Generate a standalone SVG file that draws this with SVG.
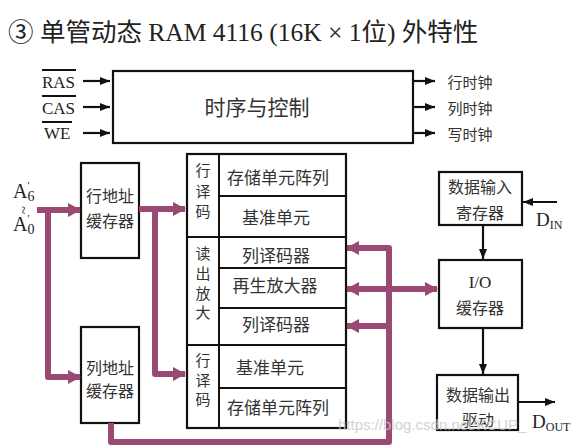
<svg xmlns="http://www.w3.org/2000/svg" width="579" height="446" viewBox="0 0 579 446">
<style>
.bx{fill:#fff;stroke:#111;stroke-width:2.2}
.ln{fill:none;stroke:#111;stroke-width:2}
.t{font-family:"Liberation Serif","Noto Sans CJK SC",serif;fill:#222}
.c{font-family:"Noto Sans CJK SC","Noto Sans CJK JP",sans-serif;fill:#333;font-size:16px;text-anchor:middle}
.v{font-size:15px}
.pb{fill:none;stroke:#9a4a72;stroke-width:6;stroke-linejoin:round}
.ar{fill:none;stroke:#111;stroke-width:2.2}
</style>
<defs>
<marker id="pa" markerUnits="userSpaceOnUse" markerWidth="16" markerHeight="16" refX="12" refY="8" orient="auto">
<path d="M0,1 L13,8 L0,15 z" fill="#9a4a72"/>
</marker>
<marker id="ba" markerUnits="userSpaceOnUse" markerWidth="12" markerHeight="12" refX="10" refY="6" orient="auto">
<path d="M0,2 L10,6 L0,10 z" fill="#111"/>
</marker>
</defs>
<rect width="579" height="446" fill="#fff"/>
<text class="t" x="8" y="41" font-size="25.5">③ 单管动态 RAM 4116 (16K × 1位) 外特性</text>

<g id="control">
<rect class="bx" x="113" y="71" width="300" height="72"/>
<text class="c" x="257" y="115" style="font-size:21px">时序与控制</text>
</g>
<g id="inputs">
<text class="t" x="42" y="88" font-size="17">RAS</text>
<text class="t" x="42" y="114" font-size="17">CAS</text>
<text class="t" x="44" y="139" font-size="17">WE</text>
<path class="ln" d="M42,70 H76 M42,96 H76 M42,122 H72" stroke-width="1.3"/>
</g>
<g id="outputs">
<text class="c" x="470" y="88" style="font-size:15px">行时钟</text>
<text class="c" x="470" y="114" style="font-size:15px">列时钟</text>
<text class="c" x="470" y="140" style="font-size:15px">写时钟</text>
</g>

<g id="row-addr-buf">
<rect class="bx" x="81" y="163" width="58" height="95"/>
<text class="c" x="110" y="202">行地址</text>
<text class="c" x="110" y="227">缓存器</text>
</g>
<g id="col-addr-buf">
<rect class="bx" x="81" y="327" width="58" height="96"/>
<text class="c" x="110" y="374">列地址</text>
<text class="c" x="110" y="397">缓存器</text>
</g>
<g id="addr-label" class="t">
<text x="13" y="198" font-size="20">A<tspan font-size="11" dy="-9">'</tspan><tspan font-size="14" dy="12" dx="-2">6</tspan></text>
<text x="23" y="210" font-size="15" transform="rotate(90 23 210)" text-anchor="middle" dominant-baseline="central">~</text>
<text x="13" y="231" font-size="20">A<tspan font-size="11" dy="-9">'</tspan><tspan font-size="14" dy="12" dx="-2">0</tspan></text>
</g>

<g id="array">
<rect class="bx" x="187" y="154" width="159" height="274"/>
<path class="ln" d="M219,154 V428 M187,237 H346 M187,345 H346 M219,196 H346 M219,268 H346 M219,308 H346 M219,388 H346"/>
<text class="c v" x="203" y="176">行</text>
<text class="c v" x="203" y="197">译</text>
<text class="c v" x="203" y="217">码</text>
<text class="c v" x="203" y="259">读</text>
<text class="c v" x="203" y="279">出</text>
<text class="c v" x="203" y="299">放</text>
<text class="c v" x="203" y="318">大</text>
<text class="c v" x="203" y="366">行</text>
<text class="c v" x="203" y="386">译</text>
<text class="c v" x="203" y="405">码</text>
<text class="c" x="278" y="184" style="font-size:17px">存储单元阵列</text>
<text class="c" x="276" y="224" style="font-size:17px">基准单元</text>
<text class="c" x="276" y="262" style="font-size:17px">列译码器</text>
<text class="c" x="275" y="292" style="font-size:17px">再生放大器</text>
<text class="c" x="276" y="331" style="font-size:17px">列译码器</text>
<text class="c" x="270" y="374" style="font-size:17px">基准单元</text>
<text class="c" x="278" y="414" style="font-size:17px">存储单元阵列</text>
</g>

<g id="din-reg">
<rect class="bx" x="439" y="172" width="83" height="53"/>
<text class="c" x="480" y="193">数据输入</text>
<text class="c" x="480" y="219">寄存器</text>
</g>
<g id="io-buf">
<rect class="bx" x="439" y="260" width="83" height="68"/>
<text class="t" x="480" y="288" font-size="17" text-anchor="middle">I/O</text>
<text class="c" x="480" y="314">缓存器</text>
</g>
<g id="dout-drv">
<rect class="bx" x="437" y="375" width="81" height="55"/>
<text class="c" x="478" y="401">数据输出</text>
<text class="c" x="478" y="426">驱动</text>
</g>
<g id="data-labels">
<text class="t" x="536" y="226" font-size="19">D<tspan font-size="12" dy="3">IN</tspan></text>
<text class="t" x="532" y="428" font-size="19">D<tspan font-size="12" dy="3">OUT</tspan></text>
</g>

<g id="connectors">
<path class="ar" d="M83,81 H110" marker-end="url(#ba)"/>
<path class="ar" d="M83,107 H110" marker-end="url(#ba)"/>
<path class="ar" d="M83,133 H110" marker-end="url(#ba)"/>
<path class="ar" d="M413,81 H435" marker-end="url(#ba)"/>
<path class="ar" d="M413,107 H435" marker-end="url(#ba)"/>
<path class="ar" d="M413,133 H435" marker-end="url(#ba)"/>
<path class="ar" d="M557,202 H523" marker-end="url(#ba)"/>
<path class="ar" d="M483,225 V259" marker-end="url(#ba)"/>
<path class="ar" d="M483,328 V374" marker-end="url(#ba)"/>
<path class="ar" d="M518,402 H555" marker-end="url(#ba)"/>
<path class="pb" d="M37,210 H80" marker-end="url(#pa)"/>
<path class="pb" d="M48,210 V377 H80" marker-end="url(#pa)"/>
<path class="pb" d="M139,209 H185" marker-end="url(#pa)"/>
<path class="pb" d="M155,209 V374 H185" marker-end="url(#pa)"/>
<path class="pb" d="M111,423 V442 H389 V248 H347" marker-end="url(#pa)"/>
<path class="pb" d="M389,289 H347" marker-end="url(#pa)"/>
<path class="pb" d="M389,289 H437" marker-end="url(#pa)"/>
<path class="pb" d="M389,326 H347" marker-end="url(#pa)"/>
</g>
<text x="338" y="430" font-family="Liberation Sans,sans-serif" font-size="15" fill="#c8c8c8" opacity="0.8">https://blog.csdn.net/KCUP_</text>
</svg>
